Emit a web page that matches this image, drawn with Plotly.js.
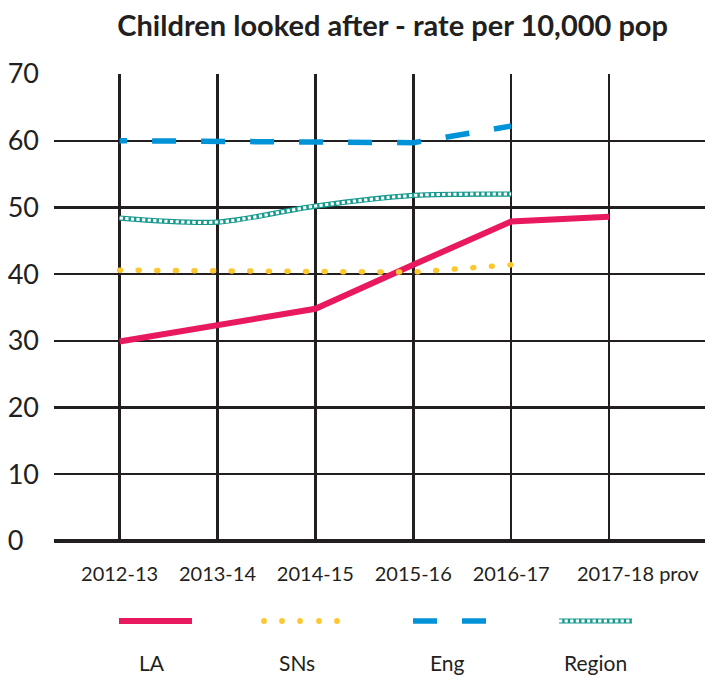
<!DOCTYPE html>
<html><head><meta charset="utf-8">
<script src="https://cdn.plot.ly/plotly-3.0.1.min.js"></script>
<style>html,body{margin:0;padding:0;background:#fff;} #chart{width:705px;height:675px;}</style>
</head><body><div id="chart"></div>
<script>
const categories = ["2012-13","2013-14","2014-15","2015-16","2016-17","2017-18 prov"];
const laValues = [29.9, 32.3, 34.8, 41.4, 47.9, 48.6];
const snsValues = [40.6, 40.5, 40.4, 40.3, 41.4, null];
const engValues = [60.0, 59.9, 59.8, 59.7, 62.2, null];
const regionValues = [48.4, 47.8, 50.2, 51.8, 52.0, null];
const yTickValues = [0, 10, 20, 30, 40, 50, 60, 70];
const yTickLabels = ["0", "10", "20", "30", "40", "50", "60", "70"];
const seriesNames = ["LA", "SNs", "Eng", "Region"];

const C = {la:'#E8195E', sns:'#FDC82F', eng:'#0093D8', reg:'#17998E', ink:'#231F20'};
const FONT = "Lato, 'Open Sans', sans-serif";

const L = 54, T = 74, W = 705, H = 675, B = 134;
const pw = W - L, ph = H - T - B;
const px = v => (v - L) / pw;
const py = v => (T + ph - v) / ph;

const traces = [
  {x: categories, y: laValues, name: seriesNames[0], mode: 'lines', line: {color: C.la, width: 6}},
  {x: categories, y: snsValues, name: seriesNames[1], mode: 'lines', line: {color: C.sns, width: 5.5, dash: '1px,17.6px'}},
  {x: categories, y: engValues, name: seriesNames[2], mode: 'lines', line: {color: C.eng, width: 5.5, dash: '24px,25px'}},
  {x: categories, y: regionValues, name: seriesNames[3], mode: 'lines', line: {color: C.reg, width: 5.2, shape: 'spline', smoothing: 0.8}},
  {x: categories, y: regionValues, name: seriesNames[3], showlegend: false, mode: 'lines', line: {color: '#ffffff', width: 3, dash: '3.2px,2.4px', shape: 'spline', smoothing: 0.8}}
];

const ly = 621;
const shapes = [
  {type:'line', xref:'paper', yref:'paper', x0:px(119), x1:px(192), y0:py(ly), y1:py(ly), line:{color:C.la, width:6}},
  {type:'line', xref:'paper', yref:'paper', x0:px(413), x1:px(437), y0:py(ly), y1:py(ly), line:{color:C.eng, width:5.5}},
  {type:'line', xref:'paper', yref:'paper', x0:px(462), x1:px(486), y0:py(ly), y1:py(ly), line:{color:C.eng, width:5.5}},
  {type:'line', xref:'paper', yref:'paper', x0:px(559), x1:px(632), y0:py(ly), y1:py(ly), line:{color:C.reg, width:5.2}},
  {type:'line', xref:'paper', yref:'paper', x0:px(559), x1:px(632), y0:py(ly), y1:py(ly), line:{color:'#ffffff', width:3, dash:'3.2px,2.4px'}}
];
[264, 282, 300, 319, 337].forEach(cx => {
  shapes.push({type:'circle', xref:'paper', yref:'paper', x0:px(cx-2.9), x1:px(cx+2.9), y0:py(ly+2.9), y1:py(ly-2.9),
    fillcolor:C.sns, line:{width:0}});
});
const labelX = [152, 297, 447, 595];
const annotations = seriesNames.map((n, i) => ({
  text: n, xref:'paper', yref:'paper', x: px(labelX[i]), y: py(662), xanchor:'center', yanchor:'middle',
  showarrow:false, font:{family:FONT, size:21, color:C.ink}
}));

// last category label: "2017-18" centred on its gridline with "prov" trailing to the right
const lastIdx = categories.length - 1;
const xTickText = categories.map((c, i) => i === lastIdx ? '' : c);
annotations.push({
  text: categories[lastIdx], xref:'x', yref:'paper', x: categories[lastIdx], y: py(573),
  xanchor:'left', yanchor:'middle', xshift: -34, showarrow:false,
  font:{family:FONT, size:20, color:C.ink}
});

const layout = {
  width: W, height: H,
  margin: {l: L, r: 0, t: T, b: B, pad: 0},
  paper_bgcolor: '#ffffff', plot_bgcolor: '#ffffff',
  showlegend: false,
  title: {text: 'Children looked after - rate per 10,000 pop', x: 0.557, xref:'container', xanchor:'center',
          y: 1 - 26/H, yref:'container', yanchor:'middle', font: {family: FONT, size: 29, color: C.ink, weight: 'bold'}},
  xaxis: {type:'category', range:[-0.67, 5.98], tickvals: categories, ticktext: xTickText,
          showgrid:true, gridcolor:C.ink, gridwidth:2.5,
          showline:false, zeroline:false, ticks:'', tickangle: 0, ticklabelstandoff: 19,
          tickfont:{family:FONT, size:20, color:C.ink}, fixedrange:true},
  yaxis: {range:[0, 70], tickvals: yTickValues, ticktext: yTickLabels.map(t => t.length < 2 ? t + '\u2007' : t),
          showgrid:true, gridcolor:C.ink, gridwidth:2.2, zeroline:true, zerolinecolor:C.ink, zerolinewidth:3.5,
          showline:false, ticks:'', ticklabelstandoff: 14, tickfont:{family:FONT, size:27, color:C.ink}, fixedrange:true},
  shapes: shapes,
  annotations: annotations
};

Plotly.newPlot('chart', traces, layout, {displayModeBar:false, staticPlot:true}).then(gd => {
  const tr = gd.querySelectorAll('.scatterlayer .trace');
  if (tr[1]) tr[1].querySelectorAll('path.js-line').forEach(p => { p.style.strokeLinecap = 'round'; });
  if (tr[2]) tr[2].querySelectorAll('path.js-line').forEach(p => { p.style.strokeDashoffset = '16.5px'; });
});
</script>
</body></html>
